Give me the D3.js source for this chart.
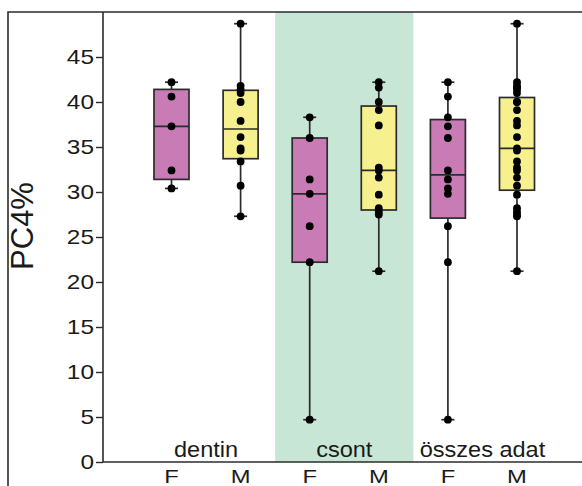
<!DOCTYPE html>
<html>
<head>
<meta charset="utf-8">
<script src="https://cdn.jsdelivr.net/npm/d3@7"></script>
<style>
  html, body { margin: 0; padding: 0; background: #fff; }
  svg { display: block; font-family: "Liberation Sans", Arial, sans-serif; }
</style>
</head>
<body>
<svg id="chart" width="582" height="486"></svg>
<script>
// ---- data ----
const groups = ["dentin", "csont", "összes adat"];
const sexes = ["F", "M"];
const dentinF = [30.4, 32.4, 37.3, 40.6, 42.2];
const dentinM = [27.3, 30.7, 33.4, 34.6, 34.85, 36.1, 37.9, 40.0, 41.0, 41.4, 41.8, 48.7];
const csontF  = [4.7, 22.2, 26.2, 29.8, 31.4, 36.0, 38.3];
const csontM  = [21.2, 27.5, 27.8, 28.2, 29.7, 31.6, 32.4, 32.7, 37.4, 39.1, 40.0, 41.6, 42.2];
const yTicks = [0, 5, 10, 15, 20, 25, 30, 35, 40, 45];
const yLabel = "PC4%";

const seriesData = [
  { group: "dentin", sex: "F", values: dentinF },
  { group: "dentin", sex: "M", values: dentinM },
  { group: "csont", sex: "F", values: csontF },
  { group: "csont", sex: "M", values: csontM },
  { group: "összes adat", sex: "F", values: dentinF.concat(csontF) },
  { group: "összes adat", sex: "M", values: dentinM.concat(csontM) }
];

// quartiles as (n+1)p with linear interpolation
function quant(sorted, p) {
  const n = sorted.length;
  let pos = p * (n + 1);
  if (pos < 1) pos = 1;
  if (pos > n) pos = n;
  const lo = Math.floor(pos), hi = Math.ceil(pos);
  const f = pos - lo;
  return sorted[lo - 1] + f * (sorted[hi - 1] - sorted[lo - 1]);
}
seriesData.forEach(d => {
  const s = d.values.slice().sort((a, b) => a - b);
  d.min = s[0]; d.max = s[s.length - 1];
  d.q1 = quant(s, 0.25); d.med = quant(s, 0.5); d.q3 = quant(s, 0.75);
  d.key = d.group + "|" + d.sex;
});

// ---- layout ----
const svg = d3.select("#chart");
const W = 582, H = 486;
const axisX = 103, plotTop = 12, plotBottom = 462;
const fillColor = { F: "#c97bb5", M: "#f6f18e" };
const ink = "#2b2b2b";
const textColor = "#1a1a1a";

const y = d3.scaleLinear().domain([0, 50]).range([plotBottom, plotTop]);
const x = d3.scalePoint().domain(seriesData.map(d => d.key)).range([171.5, 517]);
const step = x.step();
const boxW = 35;

// green band behind "csont"
svg.append("rect")
  .attr("x", x("csont|F") - step / 2)
  .attr("y", plotTop)
  .attr("width", x("csont|M") - x("csont|F") + step)
  .attr("height", plotBottom - plotTop)
  .attr("fill", "#c8e6d5");

// outer frame (top + left)
svg.append("path")
  .attr("d", `M8,${H} L8,${plotTop} L${W},${plotTop}`)
  .attr("fill", "none").attr("stroke", ink).attr("stroke-width", 1.6);

// y axis
const yAxis = d3.axisLeft(y).tickValues(yTicks).tickSize(7).tickPadding(2).tickSizeOuter(0);
const gy = svg.append("g").attr("transform", `translate(${axisX},0)`).call(yAxis);
gy.select(".domain").remove();
gy.selectAll(".tick line").attr("stroke", ink).attr("stroke-width", 1.4);
gy.selectAll(".tick text")
  .attr("x", 0)
  .attr("transform", "translate(-9,0) scale(1.22,1)")
  .attr("font-size", 20).attr("fill", textColor)
  .attr("font-family", "'Liberation Sans', Arial, sans-serif");
svg.append("line").attr("x1", axisX).attr("x2", axisX).attr("y1", plotTop).attr("y2", plotBottom)
  .attr("stroke", ink).attr("stroke-width", 1.6);

// x axis line
svg.append("line").attr("x1", axisX).attr("x2", W).attr("y1", plotBottom).attr("y2", plotBottom)
  .attr("stroke", ink).attr("stroke-width", 1.6);

// y label
svg.append("text")
  .attr("transform", `translate(33,226) rotate(-90)`)
  .attr("text-anchor", "middle")
  .attr("font-size", 31)
  .attr("fill", textColor)
  .text(yLabel);

// boxes
const g = svg.append("g");
const box = g.selectAll("g.box").data(seriesData).join("g").attr("class", "box");

box.append("line")
  .attr("x1", d => x(d.key)).attr("x2", d => x(d.key))
  .attr("y1", d => y(d.min)).attr("y2", d => y(d.max))
  .attr("stroke", ink).attr("stroke-width", 1.7);
box.append("line")
  .attr("x1", d => x(d.key) - 6.5).attr("x2", d => x(d.key) + 6.5)
  .attr("y1", d => y(d.min)).attr("y2", d => y(d.min))
  .attr("stroke", ink).attr("stroke-width", 1.7);
box.append("line")
  .attr("x1", d => x(d.key) - 6.5).attr("x2", d => x(d.key) + 6.5)
  .attr("y1", d => y(d.max)).attr("y2", d => y(d.max))
  .attr("stroke", ink).attr("stroke-width", 1.7);
box.append("rect")
  .attr("x", d => x(d.key) - boxW / 2)
  .attr("width", boxW)
  .attr("y", d => y(d.q3))
  .attr("height", d => y(d.q1) - y(d.q3))
  .attr("fill", d => fillColor[d.sex])
  .attr("stroke", ink).attr("stroke-width", 1.7);
box.append("line")
  .attr("x1", d => x(d.key) - boxW / 2).attr("x2", d => x(d.key) + boxW / 2)
  .attr("y1", d => y(d.med)).attr("y2", d => y(d.med))
  .attr("stroke", ink).attr("stroke-width", 1.7);
box.selectAll("circle").data(d => d.values.map(v => ({ v, key: d.key }))).join("circle")
  .attr("cx", p => x(p.key))
  .attr("cy", p => y(p.v))
  .attr("r", 3.9)
  .attr("fill", "#000");

// category labels
svg.selectAll("text.sex").data(seriesData).join("text").attr("class", "sex")
  .attr("transform", d => `translate(${x(d.key)},483) scale(1.25,1)`)
  .attr("text-anchor", "middle").attr("font-size", 19).attr("fill", textColor)
  .text(d => d.sex);

// group labels
svg.selectAll("text.grp").data(groups).join("text").attr("class", "grp")
  .attr("transform", gname => `translate(${(x(gname + "|F") + x(gname + "|M")) / 2},457) scale(1.07,1)`)
  .attr("text-anchor", "middle").attr("font-size", 22).attr("fill", textColor)
  .text(gname => gname);
</script>
</body>
</html>
